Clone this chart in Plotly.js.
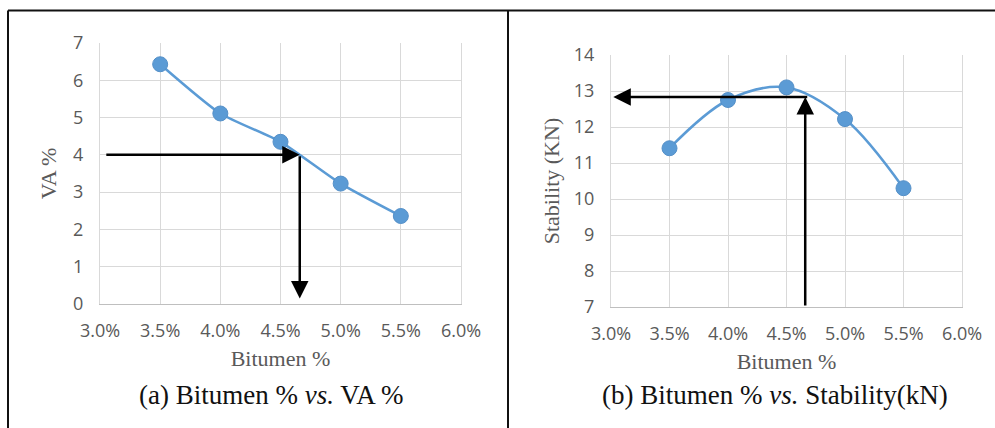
<!DOCTYPE html>
<html>
<head>
<meta charset="utf-8">
<script src="https://cdn.plot.ly/plotly-3.0.1.min.js"></script>
<style>
html,body{margin:0;padding:0;background:#fff;}
#chart{width:995px;height:428px;}
</style>
</head>
<body>
<div id="chart"></div>
<script>
// Data
const bitumen = [0.035, 0.040, 0.045, 0.050, 0.055];
const vaPercent = [6.43, 5.11, 4.35, 3.23, 2.36];
const stabilityKN = [11.41, 12.75, 13.10, 12.22, 10.30];
const xTickVals = [0.030, 0.035, 0.040, 0.045, 0.050, 0.055, 0.060];
const xTickText = ['3.0%', '3.5%', '4.0%', '4.5%', '5.0%', '5.5%', '6.0%'];
const optimumBitumen = 0.0466;
const targetVA = 4;
const stabilityAtOptimum = 12.83;

const blue = '#5b9bd5';
const grid = '#d9d9d9';
const tickFont = {family: 'Open Sans, Liberation Sans, sans-serif', size: 18, color: '#595959'};
const titleFont = {family: 'Liberation Serif, Times New Roman, serif', size: 22, color: '#595959'};
const capFont = {family: 'Liberation Serif, Times New Roman, serif', size: 27, color: '#111'};

const traces = [
  {x: bitumen, y: vaPercent, xaxis: 'x', yaxis: 'y', type: 'scatter', mode: 'lines+markers',
   line: {color: blue, width: 2.5, shape: 'spline', smoothing: 0.6},
   marker: {color: blue, size: 15, line: {color: '#5590c8', width: 1}}},
  {x: bitumen, y: stabilityKN, xaxis: 'x2', yaxis: 'y2', type: 'scatter', mode: 'lines+markers',
   line: {color: blue, width: 2.5, shape: 'spline', smoothing: 1},
   marker: {color: blue, size: 15, line: {color: '#5590c8', width: 1}}}
];

const xAxisBase = {
  range: [0.030, 0.060], tickvals: xTickVals, ticktext: xTickText,
  showgrid: true, gridcolor: grid, gridwidth: 1, zeroline: false,
  showline: true, linecolor: '#bfbfbf', linewidth: 1, mirror: false,
  ticks: '', tickfont: tickFont, ticklabelstandoff: 10, fixedrange: true
};
const yAxisBase = {
  showgrid: true, gridcolor: grid, gridwidth: 1, zeroline: false,
  showline: true, linecolor: grid, linewidth: 1, mirror: true,
  ticks: '', tickfont: tickFont, dtick: 1, ticklabelstandoff: 12, fixedrange: true
};

const layout = {
  width: 995, height: 428,
  margin: {l: 0, r: 0, t: 0, b: 0},
  paper_bgcolor: '#fff', plot_bgcolor: '#fff',
  showlegend: false,
  xaxis: Object.assign({}, xAxisBase, {domain: [100/995, 461/995], anchor: 'y',
    title: {text: 'Bitumen %', font: titleFont, standoff: 10}}),
  yaxis: Object.assign({}, yAxisBase, {domain: [1-304/428, 1-43/428], anchor: 'x', range: [0, 7],
    title: {text: 'VA %', font: titleFont, standoff: 10}}),
  xaxis2: Object.assign({}, xAxisBase, {domain: [611/995, 962/995], anchor: 'y2',
    title: {text: 'Bitumen %', font: titleFont, standoff: 10}}),
  yaxis2: Object.assign({}, yAxisBase, {domain: [1-307/428, 1-55/428], anchor: 'x2', range: [7, 14],
    title: {text: 'Stability (KN)', font: titleFont, standoff: 8}}),
  shapes: [
    {type: 'line', xref: 'paper', yref: 'paper', x0: 8/995, x1: 1, y0: 1-10.5/428, y1: 1-10.5/428,
     line: {color: '#111', width: 2}},
    {type: 'line', xref: 'paper', yref: 'paper', x0: 8/995, x1: 8/995, y0: 0, y1: 1-10.5/428,
     line: {color: '#111', width: 2}},
    {type: 'line', xref: 'paper', yref: 'paper', x0: 508/995, x1: 508/995, y0: 0, y1: 1-10.5/428,
     line: {color: '#111', width: 2}}
  ],
  annotations: [
    {x: optimumBitumen, y: targetVA, ax: 0.0304, ay: targetVA, xref: 'x', yref: 'y', axref: 'x', ayref: 'y',
     showarrow: true, arrowhead: 2, arrowsize: 1.4, arrowwidth: 2.5, arrowcolor: '#000', text: '', standoff: 0},
    {x: optimumBitumen, y: 0.15, ax: optimumBitumen, ay: targetVA, xref: 'x', yref: 'y', axref: 'x', ayref: 'y',
     showarrow: true, arrowhead: 2, arrowsize: 1.4, arrowwidth: 2.5, arrowcolor: '#000', text: '', standoff: 0},
    {x: optimumBitumen, y: stabilityAtOptimum, ax: optimumBitumen, ay: 7, xref: 'x2', yref: 'y2', axref: 'x2', ayref: 'y2',
     showarrow: true, arrowhead: 2, arrowsize: 1.4, arrowwidth: 2.5, arrowcolor: '#000', text: '', standoff: 0},
    {x: 0.0302, y: stabilityAtOptimum, ax: optimumBitumen + 0.0003, ay: stabilityAtOptimum, xref: 'x2', yref: 'y2', axref: 'x2', ayref: 'y2',
     showarrow: true, arrowhead: 2, arrowsize: 1.4, arrowwidth: 2.5, arrowcolor: '#000', text: '', standoff: 0},
    {x: 271/995, y: 1-395/428, xref: 'paper', yref: 'paper', showarrow: false, xanchor: 'center', yanchor: 'middle',
     text: '(a) Bitumen % <i>vs.</i> VA %', font: capFont},
    {x: 775/995, y: 1-395/428, xref: 'paper', yref: 'paper', showarrow: false, xanchor: 'center', yanchor: 'middle',
     text: '(b) Bitumen % <i>vs.</i> Stability(kN)', font: capFont}
  ]
};

Plotly.newPlot('chart', traces, layout, {displayModeBar: false, staticPlot: true});
</script>
</body>
</html>
